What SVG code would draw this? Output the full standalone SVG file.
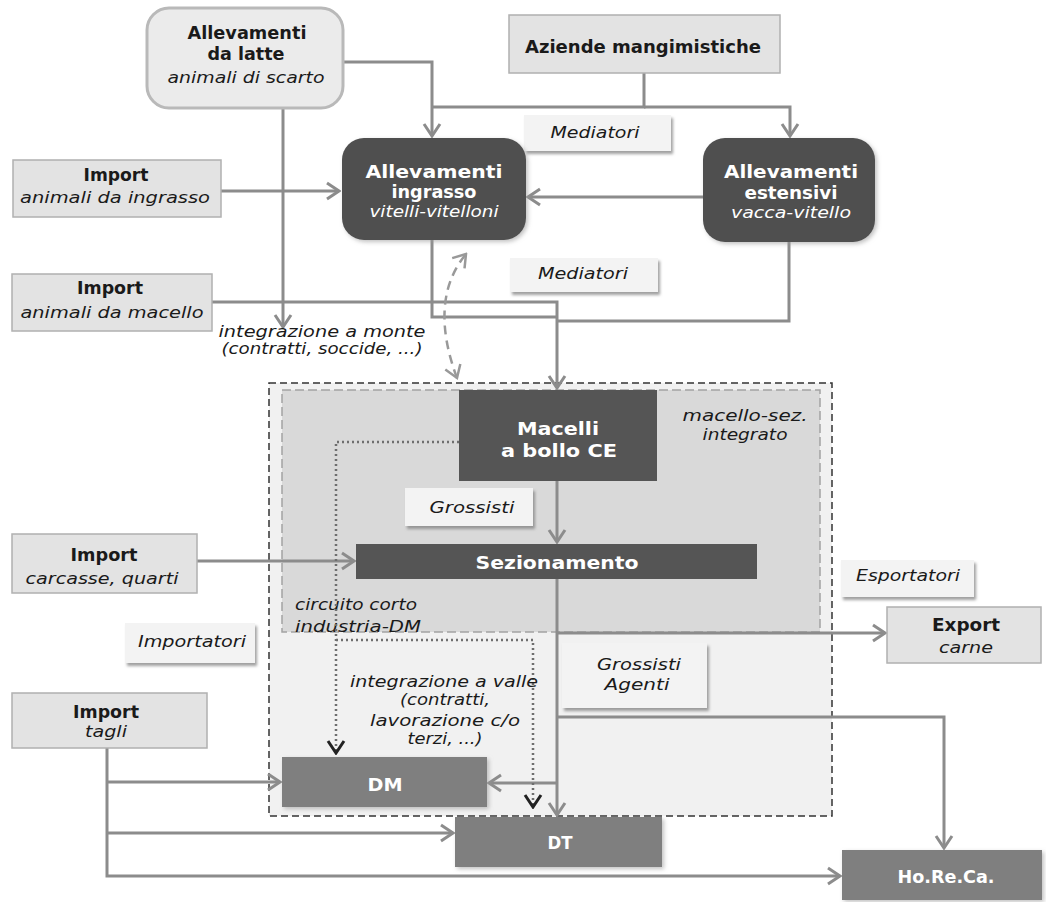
<svg xmlns="http://www.w3.org/2000/svg" width="1046" height="902" viewBox="0 0 1046 902">
<defs>
<style>
.b{font-family:"DejaVu Sans","Liberation Sans",sans-serif;font-weight:bold;font-size:18px;fill:#1a1a1a;text-anchor:middle}
.i{font-family:"DejaVu Sans","Liberation Sans",sans-serif;font-style:italic;font-size:16px;fill:#1a1a1a;text-anchor:middle}
.w{fill:#ffffff}
.lt{fill:#e3e3e3;stroke:#b0b0b0;stroke-width:1.5}
.lb{fill:#f3f3f3;stroke:none;filter:url(#sh)}
.dk{fill:#4f4f4f;filter:url(#sh2)}
.md{fill:#7f7f7f;filter:url(#sh2)}
.c{fill:none;stroke:#8c8c8c;stroke-width:3}
.ca{fill:none;stroke:#8c8c8c;stroke-width:3;marker-end:url(#a)}
.dot{fill:none;stroke:#6e6e6e;stroke-width:2.5;stroke-dasharray:2 3}
</style>
<filter id="sh" x="-10%" y="-10%" width="125%" height="140%"><feDropShadow dx="2" dy="3" stdDeviation="1.5" flood-color="#777" flood-opacity="0.7"/></filter>
<filter id="sh2" x="-10%" y="-10%" width="125%" height="130%"><feDropShadow dx="2" dy="2" stdDeviation="2" flood-color="#999" flood-opacity="0.6"/></filter>
<marker id="a" viewBox="-15 -10 17 20" refX="0" refY="0" markerWidth="17" markerHeight="20" orient="auto" markerUnits="userSpaceOnUse"><path d="M-12,-8 L0,0 L-12,8" fill="none" stroke="#8c8c8c" stroke-width="3"/></marker>
<marker id="ab" viewBox="-15 -10 17 20" refX="0" refY="0" markerWidth="17" markerHeight="20" orient="auto-start-reverse" markerUnits="userSpaceOnUse"><path d="M-12,-8 L0,0 L-12,8" fill="none" stroke="#999" stroke-width="2.5"/></marker>
<marker id="ad" viewBox="-15 -10 17 20" refX="0" refY="0" markerWidth="17" markerHeight="20" orient="auto" markerUnits="userSpaceOnUse"><path d="M-12,-8 L0,0 L-12,8" fill="none" stroke="#222" stroke-width="3"/></marker>
</defs>
<rect width="1046" height="902" fill="#ffffff"/>

<g id="area-outer">
<rect x="269" y="383" width="563" height="433" fill="#f1f1f1" stroke="#333" stroke-width="1.5" stroke-dasharray="7 4"/>
</g>
<g id="area-inner">
<rect x="282" y="390" width="538" height="242" fill="#d9d9d9" stroke="#a3a3a3" stroke-width="1.5" stroke-dasharray="9 4"/>
<text class="i" x="745" y="421" textLength="125" lengthAdjust="spacingAndGlyphs">macello-sez.</text>
<text class="i" x="745" y="440" textLength="85" lengthAdjust="spacingAndGlyphs">integrato</text>
<text class="i" x="295" y="610" style="text-anchor:start" textLength="122" lengthAdjust="spacingAndGlyphs">circuito corto</text>
<text class="i" x="295" y="632" style="text-anchor:start" textLength="126" lengthAdjust="spacingAndGlyphs">industria-DM</text>
</g>

<g id="connectors">
<path class="ca" d="M343,62 H432 V136"/>
<path class="c" d="M644,73 V107 H432"/>
<path class="ca" d="M644,107 H790 V136"/>
<path class="ca" d="M221,191 H339"/>
<path class="ca" d="M703,197 H528"/>
<path class="ca" d="M283,108 V327"/>
<path class="ca" d="M212,302 H557 V388"/>
<path class="c" d="M432,240 V317 H557"/>
<path class="c" d="M789,242 V321 H557"/>
<path class="ca" d="M557,481 V542"/>
<path class="ca" d="M197,561 H354"/>
<path class="ca" d="M557,579 V815"/>
<path class="ca" d="M557,633 H885"/>
<path class="ca" d="M557,717 H944 V848"/>
<path class="ca" d="M557,783 H489"/>
<path class="ca" d="M107,748 V876 H840"/>
<path class="ca" d="M107,782 H280"/>
<path class="ca" d="M107,833 H453"/>
<path d="M457,378 Q428,300 466,254" fill="none" stroke="#999" stroke-width="2.5" stroke-dasharray="9 6" marker-start="url(#ab)" marker-end="url(#ab)"/>
<path class="dot" d="M459,442 H336 V753" marker-end="url(#ad)"/>
<path class="dot" d="M336,640 H533 V807" marker-end="url(#ad)"/>
</g>

<g id="n-latte">
<rect x="147" y="8" width="196" height="100" rx="22" fill="#ebebeb" stroke="#b9b9b9" stroke-width="3"/>
<text class="b" x="247" y="39" textLength="119" lengthAdjust="spacingAndGlyphs">Allevamenti</text>
<text class="b" x="246" y="60" textLength="77" lengthAdjust="spacingAndGlyphs">da latte</text>
<text class="i" x="246" y="83" textLength="157" lengthAdjust="spacingAndGlyphs">animali di scarto</text>
</g>

<g id="n-aziende">
<rect class="lt" x="509" y="15" width="271" height="58"/>
<text class="b" x="643" y="53" textLength="236" lengthAdjust="spacingAndGlyphs">Aziende mangimistiche</text>
</g>

<g id="n-mediatori1">
<rect class="lb" x="524" y="115" width="147" height="36"/>
<text class="i" x="595" y="138" textLength="89" lengthAdjust="spacingAndGlyphs">Mediatori</text>
</g>

<g id="n-import-ingrasso">
<rect class="lt" x="13" y="160" width="208" height="57"/>
<text class="b" x="116" y="181" textLength="65" lengthAdjust="spacingAndGlyphs">Import</text>
<text class="i" x="115" y="203" textLength="190" lengthAdjust="spacingAndGlyphs">animali da ingrasso</text>
</g>

<g id="n-ingrasso">
<rect class="dk" x="342" y="138" width="184" height="102" rx="22"/>
<text class="b w" x="434" y="178" textLength="137" lengthAdjust="spacingAndGlyphs">Allevamenti</text>
<text class="b w" x="434" y="198" textLength="85" lengthAdjust="spacingAndGlyphs">ingrasso</text>
<text class="i w" x="434" y="217" textLength="129" lengthAdjust="spacingAndGlyphs">vitelli-vitelloni</text>
</g>

<g id="n-estensivi">
<rect class="dk" x="703" y="138" width="172" height="104" rx="22"/>
<text class="b w" x="791" y="178" textLength="134" lengthAdjust="spacingAndGlyphs">Allevamenti</text>
<text class="b w" x="791" y="199" textLength="93" lengthAdjust="spacingAndGlyphs">estensivi</text>
<text class="i w" x="791" y="218" textLength="120" lengthAdjust="spacingAndGlyphs">vacca-vitello</text>
</g>

<g id="n-mediatori2">
<rect class="lb" x="510" y="258" width="148" height="34"/>
<text class="i" x="583" y="279" textLength="90" lengthAdjust="spacingAndGlyphs">Mediatori</text>
</g>

<g id="n-import-macello">
<rect class="lt" x="12" y="274" width="200" height="57"/>
<text class="b" x="110" y="294" textLength="66" lengthAdjust="spacingAndGlyphs">Import</text>
<text class="i" x="112" y="318" textLength="183" lengthAdjust="spacingAndGlyphs">animali da macello</text>
</g>

<g id="n-integrazione-monte">
<text class="i" x="322" y="337" textLength="207" lengthAdjust="spacingAndGlyphs">integrazione a monte</text>
<text class="i" x="322" y="354" textLength="201" lengthAdjust="spacingAndGlyphs">(contratti, soccide, ...)</text>
</g>

<g id="n-macelli">
<rect x="459" y="390" width="198" height="91" fill="#555555"/>
<text class="b w" x="558" y="435" textLength="82" lengthAdjust="spacingAndGlyphs">Macelli</text>
<text class="b w" x="559" y="457" textLength="116" lengthAdjust="spacingAndGlyphs">a bollo CE</text>
</g>

<g id="n-grossisti1">
<rect class="lb" x="405" y="488" width="128" height="38"/>
<text class="i" x="472" y="513" textLength="85" lengthAdjust="spacingAndGlyphs">Grossisti</text>
</g>

<g id="n-sezionamento">
<rect x="356" y="544" width="401" height="35" fill="#555555"/>
<text class="b w" x="557" y="569" textLength="163" lengthAdjust="spacingAndGlyphs">Sezionamento</text>
</g>

<g id="n-import-carcasse">
<rect class="lt" x="12" y="534" width="185" height="59"/>
<text class="b" x="104" y="561" textLength="67" lengthAdjust="spacingAndGlyphs">Import</text>
<text class="i" x="102" y="584" textLength="153" lengthAdjust="spacingAndGlyphs">carcasse, quarti</text>
</g>

<g id="n-esportatori">
<rect class="lb" x="841" y="560" width="133" height="37"/>
<text class="i" x="908" y="581" textLength="104" lengthAdjust="spacingAndGlyphs">Esportatori</text>
</g>

<g id="n-export">
<rect class="lt" x="887" y="607" width="154" height="56"/>
<text class="b" x="966" y="631" textLength="68" lengthAdjust="spacingAndGlyphs">Export</text>
<text class="i" x="966" y="653" textLength="54" lengthAdjust="spacingAndGlyphs">carne</text>
</g>

<g id="n-importatori">
<rect class="lb" x="125" y="623" width="130" height="40"/>
<text class="i" x="192" y="647" textLength="108" lengthAdjust="spacingAndGlyphs">Importatori</text>
</g>

<g id="n-grossisti-agenti">
<rect class="lb" x="562" y="643" width="145" height="65"/>
<text class="i" x="639" y="670" textLength="84" lengthAdjust="spacingAndGlyphs">Grossisti</text>
<text class="i" x="637" y="690" textLength="65" lengthAdjust="spacingAndGlyphs">Agenti</text>
</g>

<g id="n-integrazione-valle">
<text class="i" x="444" y="687" textLength="188" lengthAdjust="spacingAndGlyphs">integrazione a valle</text>
<text class="i" x="445" y="705" textLength="90" lengthAdjust="spacingAndGlyphs">(contratti,</text>
<text class="i" x="445" y="726" textLength="150" lengthAdjust="spacingAndGlyphs">lavorazione c/o</text>
<text class="i" x="445" y="744" textLength="75" lengthAdjust="spacingAndGlyphs">terzi, ...)</text>
</g>

<g id="n-import-tagli">
<rect class="lt" x="12" y="693" width="195" height="55"/>
<text class="b" x="106" y="718" textLength="66" lengthAdjust="spacingAndGlyphs">Import</text>
<text class="i" x="106" y="737" textLength="42" lengthAdjust="spacingAndGlyphs">tagli</text>
</g>

<g id="n-dm">
<rect class="md" x="282" y="757" width="205" height="50"/>
<text class="b w" x="385" y="791" textLength="35" lengthAdjust="spacingAndGlyphs">DM</text>
</g>

<g id="n-dt">
<rect class="md" x="455" y="817" width="207" height="50"/>
<text class="b w" x="560" y="849" textLength="25" lengthAdjust="spacingAndGlyphs">DT</text>
</g>

<g id="n-horeca">
<rect class="md" x="842" y="850" width="200" height="50"/>
<text class="b w" x="946" y="883" textLength="97" lengthAdjust="spacingAndGlyphs">Ho.Re.Ca.</text>
</g>
</svg>
